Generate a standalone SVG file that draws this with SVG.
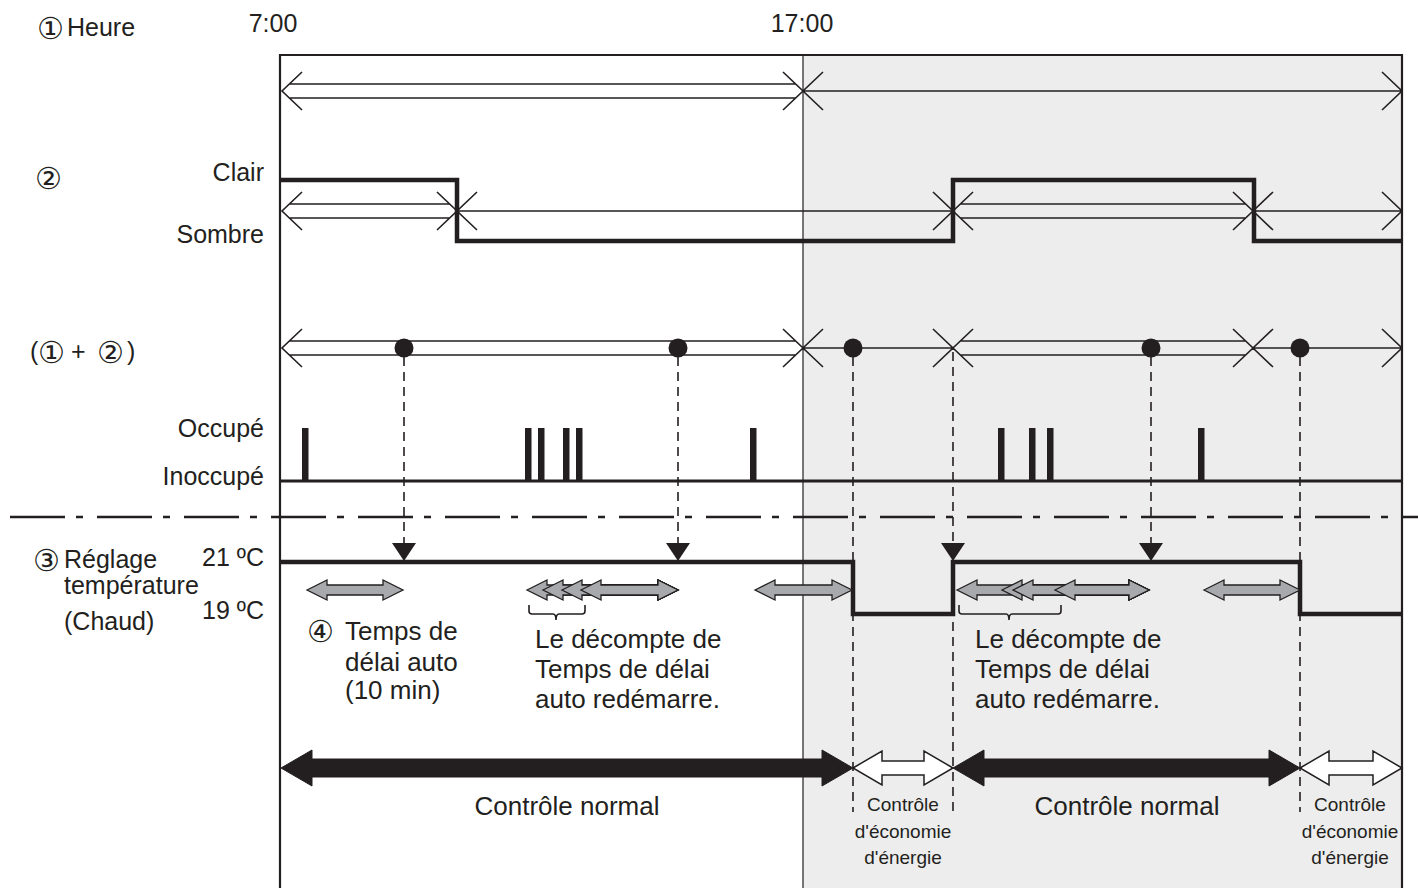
<svg xmlns="http://www.w3.org/2000/svg" width="1418" height="888" viewBox="0 0 1418 888">
<style>
text{font-family:"Liberation Sans",Arial,sans-serif;fill:#231f20;font-size:25px}
.c{font-family:"DejaVu Sans","Noto Sans CJK SC",sans-serif;font-size:30px}
.n{font-size:26px}
.r{text-anchor:end}
.m{text-anchor:middle}
.s{font-size:19px;text-anchor:middle}
.ln{fill:none;stroke:#231f20;stroke-width:1.6}
.thick{fill:none;stroke:#231f20;stroke-width:4.5}
.dash{fill:none;stroke:#231f20;stroke-width:1.6;stroke-dasharray:9 6}
.grey{fill:#a7a9ac;stroke:#231f20;stroke-width:1.3}
.blk{fill:#231f20;stroke:#231f20;stroke-width:1}
.wht{fill:#fff;stroke:#231f20;stroke-width:1.5}
</style>
<rect x="803" y="55" width="599" height="833" fill="#ededed"/>
<g id="frame">
<path d="M280 888 V55 H1402 V888" fill="none" stroke="#231f20" stroke-width="2.2"/>
<line x1="803" y1="55" x2="803" y2="888" stroke="#231f20" stroke-width="1.2"/>
</g>
<g id="labels">
<text class="c" x="37" y="39">①</text><text x="67" y="36">Heure</text>
<text class="m" x="273" y="32">7:00</text>
<text class="m" x="802" y="32">17:00</text>
<text class="c" x="35" y="189">②</text>
<text class="r" x="264" y="181">Clair</text>
<text class="r" x="264" y="243">Sombre</text>
<text x="30" y="360">(</text><text class="c" x="38" y="363">①</text><text x="71" y="360">+</text><text class="c" x="97" y="363">②</text><text x="127" y="360">)</text>
<text class="r" x="264" y="437">Occupé</text>
<text class="r" x="264" y="485">Inoccupé</text>
<text class="c" x="33" y="571">③</text><text x="64" y="568">Réglage</text>
<text x="64" y="594">température</text>
<text x="64" y="630">(Chaud)</text>
<text class="r" x="264" y="566">21 ºC</text>
<text class="r" x="264" y="619">19 ºC</text>
</g>
<g id="row1">
<path class="ln" d="M289 84 H796 M289 98 H796 M302 72 L282 91 L302 110 M783 72 L803 91 L783 110 M823 72 L803 91 L823 110 M803 91 H1402 M1382 72 L1402 91 L1382 110"/>
</g>
<g id="row2">
<path class="thick" d="M280 180 H457 V241 H953 V180 H1254 V241 H1402"/>
<path class="ln" d="M289 204 H450 M289 218 H450 M302 192 L282 211 L302 230 M437 192 L457 211 L437 230 M477 192 L457 211 L477 230 M457 211 H953 M933 192 L953 211 L933 230 M960 204 H1246 M960 218 H1246 M973 192 L953 211 L973 230 M1233 192 L1253 211 L1233 230 M1273 192 L1253 211 L1273 230 M1253 211 H1402 M1382 192 L1402 211 L1382 230"/>
</g>
<g id="row3">
<path class="ln" d="M289 341 H796 M289 355 H796 M302 329 L282 348 L302 367 M783 329 L803 348 L783 367 M823 329 L803 348 L823 367 M803 348 H953 M933 329 L953 348 L933 367 M960 341 H1246 M960 355 H1246 M973 329 L953 348 L973 367 M1233 329 L1253 348 L1233 367 M1273 329 L1253 348 L1273 367 M1253 348 H1402 M1382 329 L1402 348 L1382 367"/>
<circle cx="404" cy="348" r="9.5" fill="#231f20"/>
<circle cx="678" cy="348" r="9.5" fill="#231f20"/>
<circle cx="853" cy="348" r="9.5" fill="#231f20"/>
<circle cx="1151" cy="348" r="9.5" fill="#231f20"/>
<circle cx="1300" cy="348" r="9.5" fill="#231f20"/>
</g>
<g id="occupancy">
<line x1="280" y1="481" x2="1402" y2="481" stroke="#231f20" stroke-width="3"/>
<g fill="#231f20">
<rect x="302" y="428" width="6.5" height="53"/>
<rect x="525" y="428" width="6.5" height="53"/>
<rect x="538" y="428" width="6.5" height="53"/>
<rect x="563" y="428" width="6.5" height="53"/>
<rect x="576" y="428" width="6.5" height="53"/>
<rect x="750" y="428" width="6.5" height="53"/>
<rect x="998" y="428" width="6.5" height="53"/>
<rect x="1029" y="428" width="6.5" height="53"/>
<rect x="1047" y="428" width="6.5" height="53"/>
<rect x="1198" y="428" width="6.5" height="53"/>
</g>
</g>
<line id="separator" x1="10" y1="517" x2="1418" y2="517" stroke="#231f20" stroke-width="2.5" stroke-dasharray="55 11 7 14"/>
<g id="connectors">
<path class="dash" d="M404 357 V544 M678 357 V544 M1151 357 V544 M853 357 V812 M953 352 V812 M1300 357 V812"/>
<g fill="#231f20">
<path d="M392 543 H416 L404 561 Z"/>
<path d="M666 543 H690 L678 561 Z"/>
<path d="M941 543 H965 L953 561 Z"/>
<path d="M1139 543 H1163 L1151 561 Z"/>
</g>
</g>
<g id="temperature">
<path class="thick" d="M280 562 H853 V614 H953 V562 H1300 V614 H1402"/>
</g>
<g id="delay-arrows">
<polygon class="grey" points="307,590 327,580 327,585 383,585 383,580 403,590 383,600 383,595 327,595 327,600"/>
<polygon class="grey" points="527,590 547,580 547,585 658,585 658,580 678,590 658,600 658,595 547,595 547,600"/>
<polygon class="grey" points="543,590 563,580 563,585 658,585 658,580 678,590 658,600 658,595 563,595 563,600"/>
<polygon class="grey" points="562,590 582,580 582,585 658,585 658,580 678,590 658,600 658,595 582,595 582,600"/>
<polygon class="grey" points="581,590 601,580 601,585 658,585 658,580 678,590 658,600 658,595 601,595 601,600"/>
<polygon class="grey" points="755,590 775,580 775,585 832,585 832,580 852,590 832,600 832,595 775,595 775,600"/>
<polygon class="grey" points="957,590 977,580 977,585 1129,585 1129,580 1149,590 1129,600 1129,595 977,595 977,600"/>
<polygon class="grey" points="1002,590 1022,580 1022,585 1129,585 1129,580 1149,590 1129,600 1129,595 1022,595 1022,600"/>
<polygon class="grey" points="1013,590 1033,580 1033,585 1129,585 1129,580 1149,590 1129,600 1129,595 1033,595 1033,600"/>
<polygon class="grey" points="1055,590 1075,580 1075,585 1129,585 1129,580 1149,590 1129,600 1129,595 1075,595 1075,600"/>
<polygon class="grey" points="1204,590 1224,580 1224,585 1280,585 1280,580 1300,590 1280,600 1280,595 1224,595 1224,600"/>
<path class="ln" stroke-width="2.2" d="M529 605 V611 Q529 614 532 614 H553 Q556 614 556 620 Q556 614 559 614 H582 Q585 614 585 611 V605"/>
<path class="ln" stroke-width="2.2" d="M959 605 V611 Q959 614 962 614 H1006 Q1009 614 1009 620 Q1009 614 1012 614 H1058 Q1061 614 1061 611 V605"/>
</g>
<g id="notes">
<text class="c" x="307" y="642">④</text><text class="n" x="345" y="640">Temps de</text>
<text class="n" x="345" y="671">délai auto</text>
<text class="n" x="345" y="699">(10 min)</text>
<text class="n" x="535" y="648">Le décompte de</text>
<text class="n" x="535" y="678">Temps de délai</text>
<text class="n" x="535" y="708">auto redémarre.</text>
<text class="n" x="975" y="648">Le décompte de</text>
<text class="n" x="975" y="678">Temps de délai</text>
<text class="n" x="975" y="708">auto redémarre.</text>
</g>
<g id="modes">
<polygon class="blk" points="281,768 312,750 312,759 822,759 822,750 853,768 822,786 822,777 312,777 312,786"/>
<polygon class="wht" points="853,768 882,751 882,761 924,761 924,751 953,768 924,785 924,775 882,775 882,785"/>
<polygon class="blk" points="953,768 984,750 984,759 1269,759 1269,750 1300,768 1269,786 1269,777 984,777 984,786"/>
<polygon class="wht" points="1300,768 1329,751 1329,761 1373,761 1373,751 1402,768 1373,785 1373,775 1329,775 1329,785"/>
<text class="m n" x="567" y="815">Contrôle normal</text>
<text class="m n" x="1127" y="815">Contrôle normal</text>
<text class="s" x="903" y="811">Contrôle</text>
<text class="s" x="903" y="838">d'économie</text>
<text class="s" x="903" y="864">d'énergie</text>
<text class="s" x="1350" y="811">Contrôle</text>
<text class="s" x="1350" y="838">d'économie</text>
<text class="s" x="1350" y="864">d'énergie</text>
</g>
</svg>
